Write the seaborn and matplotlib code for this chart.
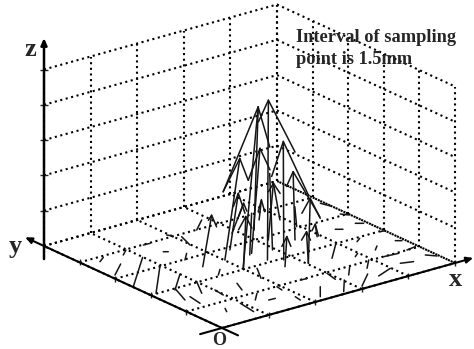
import numpy as np
import pandas as pd
import matplotlib
matplotlib.use("Agg")
import matplotlib.pyplot as plt
import seaborn as sns

# GRID DIVISIONS (1.5mm sampling interval)
grid_levels = [0, 1, 2, 3, 4, 5]

# TALL SPIKES: floor position, tip offset, then the two head strokes from the tip
spike_x = [2.58, 2.06, 2.56, 2.80, 2.01, 3.53, 3.03, 1.52, 2.62, 3.03, 2.02,
           3.63, 3.91, 2.37, 3.17, 2.49, 2.88, 3.94, 3.92, 2.94, 3.27]
spike_y = [2.10, 2.10, 2.52, 1.93, 2.55, 2.57, 1.54, 2.53, 1.66, 1.54, 2.04,
           3.71, 3.49, 2.88, 2.85, 2.48, 3.49, 3.06, 2.46, 2.43, 3.38]
spike_dx = [0.02, 0.32, 0.18, -0.01, 0.32, -0.04, 0.04, 0.19, 0.04, -0.04, 0.05,
            0.05, -0.14, 0.18, 0.11, 0.04, 0.25, -0.04, -0.04, -0.06, 0.09]
spike_dz = [4.52, 4.41, 2.91, 3.36, 2.76, 1.95, 1.83, 1.39, 0.84, 0.91, 1.45,
            0.55, 1.09, 1.54, 1.57, 1.17, 0.76, 0.58, 0.37, 2.19, 3.46]
left_dx = [-0.215, -0.751, -0.25, -0.25, -0.358, -0.143, -0.179, -0.07, -0.107, -0.107, -0.157,
           -0.07, -0.107, -0.107, 0, 0, -0.107, 0, -0.07, 0, 0]
left_dz = [-0.535, -2.13, -0.81, -0.90, -0.81, -0.37, -0.36, -0.12, -0.24, -0.20, -0.32,
           -0.31, -0.20, -0.34, 0, 0, -0.34, 0, -0.16, 0, 0]
right_dx = [0.572, 0.25, 0.215, 0.536, 0.179, 0.572, 0.215, 0.107, 0.086, 0.086, 0.129,
            0.07, 0.143, 0.143, 0, 0, 0.07, 0, 0.07, 0, 0]
right_dz = [-1.68, -1.23, -0.69, -1.71, -0.68, -1.49, -0.65, -0.37, -0.31, -0.27, -0.38,
            -0.36, -0.34, -0.62, 0, 0, -0.25, 0, -0.36, 0, 0]

# SMALL VECTORS LYING ON THE FLOOR
floor_x = [0.107, 0.012, 0.125, 0.474, 0.317, 0.423, 0.736, 0.974, 0.292, 0.798, 1.356,
           1.428, 1.959, 2.11, 1.478, 2.505, 1.489, 0.536, 2.2, 1.497, 1.257, 0.962,
           1.436, 1.933, 1.888, 2.439, 2.222, 2.68, 3.09, 2.991, 3.232, 3.85, 3.671,
           3.604, 4.261, 4.23, 3.493, 4.378, 4.309, 4.313, 4.85, 4.736, 4.836, 4.819,
           4.889, 4.932, 4.91]
floor_y = [3.146, 2.508, 2.017, 1.941, 1.455, 1.171, 1.533, 1.239, 3.81, 3.818, 3.985,
           3.52, 4.118, 3.895, 2.975, 3.99, 2.052, 0.569, 1.896, 1.539, 0.71, 0.744,
           0.568, 0.987, 0.413, 0.994, 0.148, 0.09, 0.112, 0.965, 0.671, 1.296, 0.731,
           0.316, 0.569, 0.996, 1.482, 2.549, 1.848, 1.339, 1.481, 1.003, 0.62, 2.564,
           3.077, 3.695, 1.981]
floor_dx = [0.395, 0.976, 0.846, 0.531, 0.204, 0.059, 0.271, 0.034, 0.171, 0.181, 0.137,
            0.067, 0.051, -0.131, 0.215, 0.357, 0.186, 0.075, -0.237, -0.126, 0.215, -0.064,
            0.137, -0.03, -0.03, 0.128, 0.29, 0.347, 0.424, -0.063, 0.255, 0.128, 0.264,
            0.378, 0.226, 0.298, 0.488, 0.103, 0.133, 0.138, 0.089, 0.208, 0.127, 0.111,
            0.082, 0.057, 0.096]
floor_dy = [0.358, 1.015, 0.996, 0.555, 0.549, 0.359, 0.496, 0.278, 0.13, 0.162, -0.008,
            -0.053, -0.102, -0.405, 0.235, 0.327, 0.197, 0.145, -0.422, -0.306, 0.235, -0.458,
            -0.008, -0.18, -0.18, -0.02, 0.38, 0.436, 0.396, -0.316, 0.306, 0.102, 0.299,
            0.167, -0.078, -0.032, 0.528, -0.081, 0.099, 0.134, -0.071, 0.039, -0.162, -0.088,
            -0.126, -0.207, -0.015]

# OBLIQUE VIEW, grid units to picture pixels
origin = np.array([222.0, 328.0])
ex = np.array([46.6, -13.0])
ey = np.array([-35.6, -16.4])
ez = np.array([0.0, -35.3])


def project(x, y, z=0):
    return origin + x * ex + y * ey + z * ez


def segments(paths):
    rows = []
    for i, path in enumerate(paths):
        for p in path:
            sx, sy = project(*p)
            rows.append({"id": i, "sx": sx, "sy": sy})
    return pd.DataFrame(rows)


sns.set_style("white")
plt.rcParams["font.family"] = ["Liberation Serif", "DejaVu Serif"]

fig = plt.figure(figsize=(4.74, 3.49), dpi=100)
ax = fig.add_axes([0, 0, 1, 1])

# DOTTED WALLS AND FLOOR
grid = []
for k in grid_levels:
    grid.append([(k, 0, 0), (k, 5, 0)])
    grid.append([(0, k, 0), (5, k, 0)])
    grid.append([(k, 5, 0), (k, 5, 5)])
    grid.append([(5, k, 0), (5, k, 5)])
    grid.append([(0, 5, k), (5, 5, k), (5, 0, k)])
sns.lineplot(data=segments(grid), x="sx", y="sy", units="id", estimator=None, sort=False,
             color="black", linewidth=1.5, linestyle=(0, (1.0, 1.7)), legend=False, ax=ax)

# SPIKES
spikes = []
for i in range(len(spike_x)):
    x0, y0 = spike_x[i], spike_y[i]
    x1, z1 = x0 + spike_dx[i], spike_dz[i]
    spikes.append([(x0, y0, 0), (x1, y0, z1)])
    spikes.append([(x1 + left_dx[i], y0, z1 + left_dz[i]), (x1, y0, z1),
                   (x1 + right_dx[i], y0, z1 + right_dz[i])])
sns.lineplot(data=segments(spikes), x="sx", y="sy", units="id", estimator=None, sort=False,
             color="#151515", linewidth=1.1, legend=False, ax=ax)

# FLOOR VECTORS
small = [[(floor_x[i], floor_y[i], 0), (floor_x[i] + floor_dx[i], floor_y[i] + floor_dy[i], 0)]
         for i in range(len(floor_x))]
sns.lineplot(data=segments(small), x="sx", y="sy", units="id", estimator=None, sort=False,
             color="#151515", linewidth=1.1, legend=False, ax=ax)

# AXES WITH ARROW HEADS
axis_lines = [((-0.47, 0, 0), (5.39, 0, 0), 1.5),
              ((0, -0.45, 0), (0, 5.53, 0), 1.5),
              ((0, 5, -0.37), (0, 5, 5.89), 1.8)]
for start, end, lw in axis_lines:
    ax.annotate("", xy=project(*end), xytext=project(*start),
                arrowprops=dict(arrowstyle="-|>,head_length=0.4,head_width=0.18", color="black",
                                lw=lw, shrinkA=0, shrinkB=0))

# AXIS TICKS
for k in grid_levels[1:]:
    ax.plot(*project(0, 5, k), marker="_", ms=6, mew=1.0, color="#222222")
    ax.plot(*project(k, 0, 0), marker="|", ms=4, mew=1.0, color="#222222")
    ax.plot(*project(0, k, 0), marker="|", ms=4, mew=1.0, color="#222222")

ax.text(30, 49, "z", fontsize=19, fontweight="bold", ha="center", va="center")
ax.text(15, 246, "y", fontsize=19, fontweight="bold", ha="center", va="center")
ax.text(456, 279, "x", fontsize=19, fontweight="bold", ha="center", va="center")
ax.text(219, 340.5, "O", fontsize=13, fontweight="bold", ha="center", va="center")
ax.text(296, 37, "Interval of sampling", fontsize=13.2, fontweight="bold", ha="left", va="center")
ax.text(296, 60, "point is 1.5mm", fontsize=13.2, fontweight="bold", ha="left", va="center")

ax.set_xlim(0, 474)
ax.set_ylim(349, 0)
ax.axis("off")

plt.savefig("out.png", dpi=100)
